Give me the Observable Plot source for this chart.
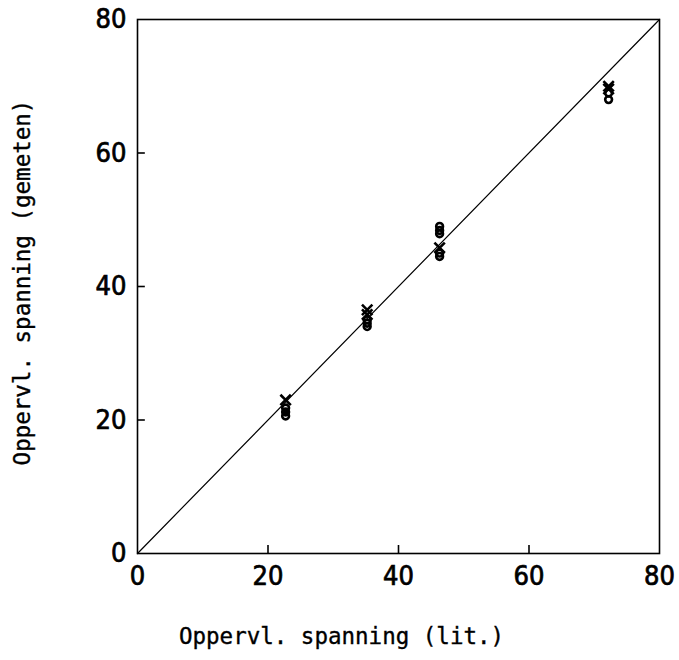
<!DOCTYPE html>
<html>
<head>
<meta charset="utf-8">
<script src="https://cdn.jsdelivr.net/npm/d3@7"></script>
<script src="https://cdn.jsdelivr.net/npm/@observablehq/plot@0.6"></script>
<style>
  html, body { margin: 0; padding: 0; background: #fff; }
  #chart svg { display: block; }
  g.axis-title text {
    font-family: "DejaVu Sans Mono", monospace;
    font-size: 22.5px;
    font-stretch: normal;
    font-weight: 500;
    stroke: #000;
    stroke-width: 0.35px;
  }
  g[aria-label="x-axis tick label"] text,
  g[aria-label="y-axis tick label"] text {
    stroke: #000;
    stroke-width: 0.7px;
  }
</style>
</head>
<body>
<div id="chart"></div>
<script>
// Literature surface tension (x) and the measured values (y)
const crossX = [22.7, 35.2, 35.2, 46.3, 72.2, 72.2];
const crossY = [23.0, 36.5, 35.8, 45.8, 70.0, 69.6];
const circleX = [22.7, 22.7, 22.7, 35.2, 35.2, 35.2, 46.3, 46.3, 46.3, 46.3, 46.3, 72.2, 72.2];
const circleY = [21.8, 21.2, 20.6, 35.0, 34.5, 34.0, 49.0, 48.4, 47.9, 45.0, 44.5, 69.0, 68.0];
const ticks = [0, 20, 40, 60, 80];
const innerTicks = [20, 40, 60];
const identity = [0, 80];
const xTitle = "Oppervl. spanning (lit.)";
const yTitle = "Oppervl. spanning (gemeten)";

const crosses = crossX.map((x, i) => ({x, y: crossY[i]}));
const circles = circleX.map((x, i) => ({x, y: circleY[i]}));
const tickLen = 1.2;

const chart = Plot.plot({
  width: 679,
  height: 660,
  marginLeft: 137,
  marginRight: 20,
  marginTop: 19,
  marginBottom: 107,
  style: {
    fontFamily: "'Liberation Sans Narrow', 'DejaVu Sans'",
    fontStretch: "condensed",
    fontWeight: "normal",
    fontSize: "27px",
    color: "#000",
    background: "#fff"
  },
  x: {domain: [0, 80]},
  y: {domain: [0, 80]},
  marks: [
    Plot.frame({stroke: "#000", strokeWidth: 1.6}),
    Plot.line(identity, {x: d => d, y: d => d, stroke: "#000", strokeWidth: 1.2}),
    Plot.ruleX(innerTicks, {x: d => d, y1: 0, y2: tickLen, stroke: "#000", strokeWidth: 1.6}),
    Plot.ruleY(innerTicks, {y: d => d, x1: 0, x2: tickLen, stroke: "#000", strokeWidth: 1.6}),
    Plot.axisX(ticks, {
      tickSize: 0, tickPadding: 12,
      tickFormat: d => String(d),
      label: null
    }),
    Plot.axisY(ticks, {
      tickSize: 0, tickPadding: 11,
      tickFormat: d => String(d),
      label: null
    }),
    Plot.text([xTitle], {
      frameAnchor: "bottom", text: d => d, dx: -57, dy: 90,
      className: "axis-title"
    }),
    Plot.text([yTitle], {
      frameAnchor: "left", textAnchor: "middle", text: d => d,
      rotate: -90, dx: -115, dy: -4,
      className: "axis-title"
    }),
    Plot.dot(circles, {x: "x", y: "y", symbol: "circle", r: 3.4, stroke: "#000", strokeWidth: 2.6, fill: "none"}),
    Plot.dot(crosses, {x: "x", y: "y", symbol: "times", r: 4.8, stroke: "#000", strokeWidth: 2.6})
  ]
});
document.getElementById("chart").appendChild(chart);
</script>
</body>
</html>
